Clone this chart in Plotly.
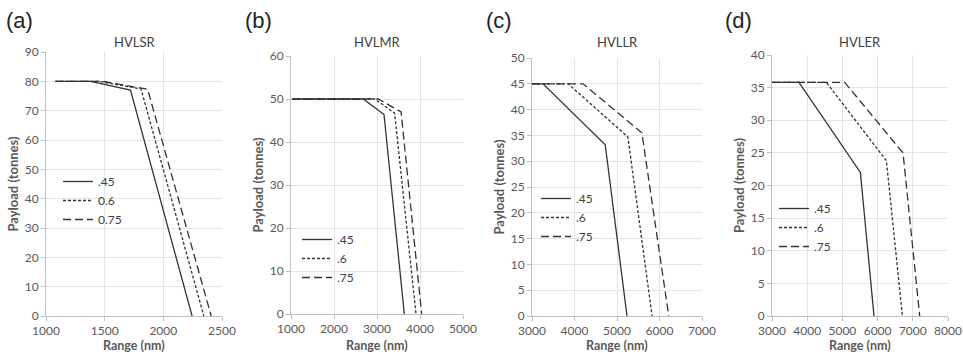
import plotly.graph_objects as go

W, H = 963, 361

series_names = [".45", ".6", ".75"]
series_names_a = [".45", "0.6", "0.75"]
dashes = ["solid", "3px,2px", "8px,4px"]

# (a) HVLSR
a_x = [[1080, 1380, 1720, 2245], [1080, 1450, 1810, 2345], [1080, 1480, 1866, 2408]]
a_y = [[80, 80, 77.0, 0], [80, 80, 77.4, 0], [80, 80, 77.3, 0]]
# (b) HVLMR
b_x = [[1030, 2680, 3163, 3635], [1030, 2950, 3410, 3907], [1030, 3030, 3560, 4039]]
b_y = [[50, 50, 46.4, 0], [50, 50, 46.7, 0], [50, 50, 47.0, 0]]
# (c) HVLLR
c_x = [[3000, 3260, 4723, 5235], [3000, 3850, 5256, 5826], [3000, 4200, 5585, 6218]]
c_y = [[45, 45, 33.2, 0], [45, 45, 34.7, 0], [45, 45, 35.5, 0]]
# (d) HVLER
d_x = [[3000, 3767, 5511, 5898], [3000, 4545, 6250, 6705], [3000, 5065, 6722, 7196]]
d_y = [[35.8, 35.8, 22.0, 0], [35.8, 35.8, 23.8, 0], [35.8, 35.8, 25.0, 0]]

titles = ["HVLSR", "HVLMR", "HVLLR", "HVLER"]
panel_labels = ["(a)", "(b)", "(c)", "(d)"]
x_title = "Range (nm)"
y_title = "Payload (tonnes)"
x_ranges = [[1000, 2500], [1000, 5000], [3000, 7000], [3000, 8000]]
x_dticks = [500, 1000, 1000, 1000]
y_ranges = [[0, 90], [0, 60], [0, 50], [0, 40]]
y_dticks = [10, 10, 5, 5]

# layout geometry (pixels)
plot_px = [(46, 222, 52, 316), (291, 463, 56, 314), (532, 702, 58, 316), (772, 948, 55, 316)]
legend_px = [(58, 167), (297, 225), (536, 184), (774, 194)]
label_px = [4, 243, 484, 723]

FONT = "Lato"
TXT = "#595959"
LINE = "#333333"

fig = go.Figure()
data = [(a_x, a_y), (b_x, b_y), (c_x, c_y), (d_x, d_y)]
for p, (xs, ys) in enumerate(data):
    names = series_names_a if p == 0 else series_names
    sfx = "" if p == 0 else str(p + 1)
    for i in range(3):
        fig.add_trace(go.Scatter(
            x=xs[i], y=ys[i], mode="lines", name=names[i],
            line=dict(color=LINE, width=1.3, dash=dashes[i]),
            xaxis="x" + sfx, yaxis="y" + sfx, legend="legend" + sfx,
            showlegend=True,
        ))

layout = dict(
    width=W, height=H, margin=dict(l=0, r=0, t=0, b=0, autoexpand=False),
    paper_bgcolor="white", plot_bgcolor="white",
    font=dict(family=FONT, size=12, color=TXT),
    annotations=[], showlegend=True,
)
for p in range(4):
    sfx = "" if p == 0 else str(p + 1)
    x0, x1, y0, y1 = plot_px[p]
    common = dict(showgrid=True, gridcolor="#e4e4e4", gridwidth=1,
                  showline=True, linecolor="#bfbfbf", linewidth=1,
                  ticks="outside", ticklen=4, tickcolor="#bfbfbf",
                  zeroline=False, tickfont=dict(family=FONT, size=12, color=TXT),
                  fixedrange=True, automargin=False)
    layout["xaxis" + sfx] = dict(
        common, domain=[x0 / W, x1 / W], range=x_ranges[p], dtick=x_dticks[p],
        anchor="y" + sfx, ticklabelstandoff=0,
    )
    layout["yaxis" + sfx] = dict(
        common, domain=[1 - y1 / H, 1 - y0 / H], range=y_ranges[p], dtick=y_dticks[p],
        anchor="x" + sfx,
        title=dict(text=y_title, font=dict(family=FONT, size=13, color=TXT, weight="bold"), standoff=3),
    )
    lx, ly = legend_px[p]
    layout["legend" + sfx] = dict(
        x=lx / W, y=1 - ly / H, xanchor="left", yanchor="top",
        bgcolor="rgba(0,0,0,0)", font=dict(family=FONT, size=12, color="#404040"),
        tracegroupgap=0,
    )
    layout["annotations"].append(dict(
        text=titles[p], x=(x0 + x1) / 2 / W, y=1 - 42 / H, xref="paper", yref="paper",
        xanchor="center", yanchor="middle", showarrow=False,
        font=dict(family=FONT, size=13, color="#404040"),
    ))
    layout["annotations"].append(dict(
        text=x_title, x=(x0 + x1) / 2 / W, y=1 - 345 / H, xref="paper", yref="paper",
        xanchor="center", yanchor="middle", showarrow=False,
        font=dict(family=FONT, size=12.5, color=TXT, weight="bold"),
    ))
    layout["annotations"].append(dict(
        text=panel_labels[p], x=label_px[p] / W, y=1 - 20 / H, xref="paper", yref="paper",
        xanchor="left", yanchor="middle", showarrow=False,
        font=dict(family="Liberation Sans", size=22, color="#222222"),
    ))

fig.update_layout(**layout)
fig.write_html("out.html")
